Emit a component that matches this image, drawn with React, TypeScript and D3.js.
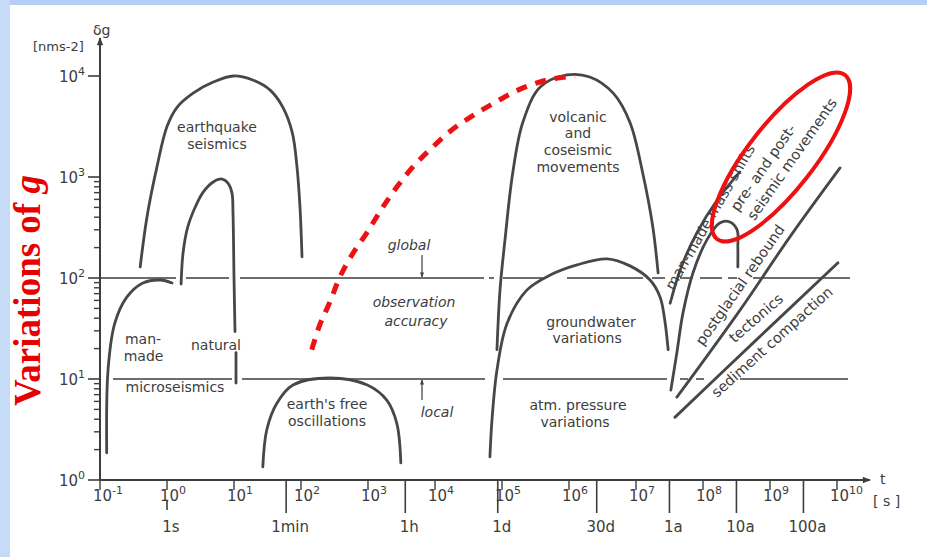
import React, { useEffect, useRef } from 'react';
import * as d3 from 'd3';

const W = 927;
const H = 557;

// axis decades (exponents of ten)
const tExponents = d3.range(-1, 11);
const gExponents = [0, 1, 2, 3, 4];
const minorDecades = [0, 1, 2];
const minorSteps = [2, 3, 4, 5, 6, 7, 8, 9];

// named time marks under the t axis, in seconds
const timeMarks = [
  { label: '1s', seconds: 1 },
  { label: '1min', seconds: 60 },
  { label: '1h', seconds: 3600 },
  { label: '1d', seconds: 86400 },
  { label: '30d', seconds: 2592000 },
  { label: '1a', seconds: 31557600 },
  { label: '10a', seconds: 315576000 },
  { label: '100a', seconds: 3155760000 },
];

// curves as [log10 t, log10 dg]
const earthquakeCurve = [
  [-0.40, 2.11], [-0.30, 2.60], [-0.15, 3.10], [0.0, 3.50], [0.15, 3.69],
  [0.39, 3.83], [0.69, 3.94], [0.99, 4.0], [1.28, 3.96], [1.54, 3.86],
  [1.73, 3.69], [1.87, 3.44], [1.94, 3.10], [1.985, 2.70], [2.015, 2.21],
];
const naturalCurve = [
  [0.21, 1.94], [0.24, 2.25], [0.31, 2.505], [0.42, 2.70], [0.54, 2.85],
  [0.69, 2.95], [0.82, 2.98], [0.91, 2.94], [0.97, 2.84], [0.985, 2.64],
  [1.0, 2.01], [1.015, 1.47],
];
const naturalTail = [[1.03, 1.26], [1.03, 0.96]];
const manMadeCurve = [
  [-0.90, 0.27], [-0.88, 1.09], [-0.78, 1.55], [-0.60, 1.81],
  [-0.36, 1.95], [-0.10, 1.98], [0.075, 1.95],
];
const freeOscCurve = [
  [1.43, 0.13], [1.49, 0.50], [1.64, 0.76], [1.88, 0.94], [2.43, 1.01],
  [2.99, 0.94], [3.28, 0.79], [3.43, 0.56], [3.49, 0.17],
];
const volcanicCurve = [
  [4.925, 1.29], [4.97, 1.88], [5.045, 2.38], [5.16, 3.04], [5.31, 3.54],
  [5.57, 3.89], [5.97, 4.01], [6.31, 3.99], [6.66, 3.83], [6.91, 3.54],
  [7.10, 3.04], [7.25, 2.51], [7.33, 2.05],
];
const groundwaterCurve = [
  [4.82, 0.23], [4.85, 0.59], [4.925, 1.09], [5.075, 1.55], [5.37, 1.88],
  [5.72, 2.03], [6.12, 2.13], [6.57, 2.19], [6.91, 2.12], [7.21, 1.98],
  [7.36, 1.81], [7.43, 1.58], [7.48, 1.29],
];
const massShiftsCurve = [
  [7.51, 1.75], [7.66, 2.08], [7.91, 2.45], [8.21, 2.77], [8.55, 3.05],
];
const prePostCurve = [
  [7.52, 0.89], [7.61, 1.26], [7.70, 1.65], [7.85, 2.05], [8.06, 2.38],
  [8.25, 2.545], [8.40, 2.555], [8.51, 2.475], [8.52, 2.31], [8.52, 2.11],
];
const postglacialLine = [[7.61, 0.82], [8.55, 1.68], [9.30, 2.41], [10.045, 3.09]];
const tectonicsLine = [[7.58, 0.62], [8.80, 1.39], [10.015, 2.15]];

// red annotation trend
const redTrend = [
  [2.16, 1.29], [2.28, 1.535], [2.43, 1.76], [2.58, 2.01], [2.78, 2.25],
  [2.99, 2.455], [3.21, 2.69], [3.43, 2.90], [3.67, 3.10], [3.955, 3.29],
  [4.25, 3.465], [4.57, 3.61], [4.90, 3.74], [5.27, 3.87], [5.67, 3.96], [6.09, 4.0],
];
const redEllipseCenter = [9.164, 3.198];

// accuracy limits, drawn as broken lines [from, to] in log10 t
const globalSegments = [
  [-1, 0.134], [0.284, 0.925], [1.09, 4.731], [4.806, 4.881], [5.015, 5.612],
  [5.97, 7.104], [7.239, 7.433], [7.657, 7.836], [7.955, 8.284], [8.373, 8.507], [8.746, 10.194],
];
const localSegments = [
  [-0.806, 0.97], [1.119, 4.746], [5.015, 7.463], [7.657, 7.776], [7.896, 8.015], [8.552, 10.164],
];

// text labels: [text, log10 t, log10 dg, italic]
const flatLabels: [string, number, number, boolean][] = [
  ['earthquake', 0.746, 3.446, false],
  ['seismics', 0.746, 3.277, false],
  ['man-', -0.358, 1.347, false],
  ['made', -0.35, 1.178, false],
  ['natural', 0.731, 1.287, false],
  ['microseismics', 0.119, 0.871, false],
  ["earth's free", 2.388, 0.703, false],
  ['oscillations', 2.388, 0.535, false],
  ['global', 3.612, 2.277, true],
  ['observation', 3.687, 1.713, true],
  ['accuracy', 3.716, 1.525, true],
  ['local', 4.03, 0.624, true],
  ['volcanic', 6.134, 3.545, false],
  ['and', 6.134, 3.386, false],
  ['coseismic', 6.134, 3.218, false],
  ['movements', 6.134, 3.05, false],
  ['groundwater', 6.328, 1.515, false],
  ['variations', 6.27, 1.356, false],
  ['atm. pressure', 6.134, 0.693, false],
  ['variations', 6.09, 0.525, false],
];
// rotated labels: [text, log10 t, log10 dg, angle]
const slantLabels: [string, number, number, number][] = [
  ['man-made mass shifts', 8.104, 2.604, -60],
  ['pre- and post-', 8.896, 3.094, -55],
  ['seismic movements', 9.328, 3.178, -55],
  ['postglacial rebound', 8.552, 1.931, -55],
  ['tectonics', 8.791, 1.604, -41],
  ['sediment compaction', 9.03, 1.366, -42],
];

const INK = '#3d3d3d';
const FONT = 'DejaVu Sans, sans-serif';

export default function App() {
  const ref = useRef<SVGSVGElement>(null);

  useEffect(() => {
    const svg = d3.select(ref.current);
    svg.selectAll('*').remove();

    const x = d3.scaleLinear().domain([-1, 10]).range([100, 837]);
    const y = d3.scaleLinear().domain([0, 4]).range([480, 76]);
    const line = d3.line<number[]>()
      .x(d => x(d[0]))
      .y(d => y(d[1]))
      .curve(d3.curveCatmullRom.alpha(0.5));

    // frame
    svg.append('rect').attr('width', W).attr('height', H).attr('fill', '#fff');
    svg.append('rect').attr('width', W).attr('height', 5).attr('fill', '#b4cff3');
    svg.append('rect').attr('width', 10).attr('height', H).attr('fill', '#c6dbf5');

    const defs = svg.append('defs');
    defs.append('marker')
      .attr('id', 'arr').attr('viewBox', '0 0 10 10')
      .attr('refX', 9).attr('refY', 5)
      .attr('markerWidth', 10).attr('markerHeight', 8)
      .attr('markerUnits', 'userSpaceOnUse')
      .attr('orient', 'auto')
      .append('path').attr('d', 'M0,1 L10,5 L0,9 Z').attr('fill', INK);
    defs.append('marker')
      .attr('id', 'arrSmall').attr('viewBox', '0 0 10 10')
      .attr('refX', 9).attr('refY', 5)
      .attr('markerWidth', 7).attr('markerHeight', 5)
      .attr('markerUnits', 'userSpaceOnUse')
      .attr('orient', 'auto')
      .append('path').attr('d', 'M0,1 L10,5 L0,9 Z').attr('fill', INK);

    const g = svg.append('g');

    // axes
    g.append('line')
      .attr('x1', x(-1)).attr('x2', x(-1)).attr('y1', y(0)).attr('y2', 38)
      .attr('stroke', INK).attr('stroke-width', 2).attr('marker-end', 'url(#arr)');
    g.append('line')
      .attr('x1', x(-1)).attr('x2', 870).attr('y1', y(0)).attr('y2', y(0))
      .attr('stroke', INK).attr('stroke-width', 1.8).attr('marker-end', 'url(#arr)');

    // y ticks
    gExponents.forEach(e => {
      g.append('line')
        .attr('x1', x(-1) - 12).attr('x2', x(-1)).attr('y1', y(e)).attr('y2', y(e))
        .attr('stroke', INK).attr('stroke-width', 1.6);
      const t = g.append('text')
        .attr('x', x(-1) - 15).attr('y', y(e) + 6)
        .attr('text-anchor', 'end').attr('fill', INK)
        .style('font-family', FONT).style('font-size', '15px');
      t.append('tspan').text('10');
      t.append('tspan').attr('dy', -7).style('font-size', '11px').text(String(e));
    });
    minorDecades.forEach(dec => {
      minorSteps.forEach(m => {
        const v = dec + Math.log10(m);
        g.append('line')
          .attr('x1', x(-1) - 6).attr('x2', x(-1)).attr('y1', y(v)).attr('y2', y(v))
          .attr('stroke', INK).attr('stroke-width', 1.4);
      });
    });

    // x ticks
    tExponents.forEach(e => {
      g.append('line')
        .attr('x1', x(e)).attr('x2', x(e)).attr('y1', y(0)).attr('y2', y(0) + 10)
        .attr('stroke', INK).attr('stroke-width', 1.4);
      const t = g.append('text')
        .attr('x', x(e) - 7).attr('y', y(0) + 21)
        .attr('fill', INK)
        .style('font-family', FONT).style('font-size', '15px');
      t.append('tspan').text('10');
      t.append('tspan').attr('dy', -7).style('font-size', '11px').text(String(e));
    });
    timeMarks.forEach(d => {
      const e = Math.log10(d.seconds);
      const onDecade = Math.abs(e - Math.round(e)) < 1e-9;
      g.append('line')
        .attr('x1', x(e)).attr('x2', x(e))
        .attr('y1', onDecade ? y(0) + 20 : y(0)).attr('y2', onDecade ? y(0) + 30 : y(0) + 33)
        .attr('stroke', INK).attr('stroke-width', 1.6);
      g.append('text')
        .attr('x', x(e) + 4).attr('y', y(0) + 52)
        .attr('text-anchor', 'middle').attr('fill', INK)
        .style('font-family', FONT).style('font-size', '15px')
        .text(d.label);
    });

    // axis titles
    g.append('text').attr('x', 93).attr('y', 35).attr('fill', INK)
      .style('font-family', FONT).style('font-size', '14px').text('δg');
    g.append('text').attr('x', 33).attr('y', 51).attr('fill', INK)
      .style('font-family', FONT).style('font-size', '13px').text('[nms-2]');
    g.append('text').attr('x', 880).attr('y', 484).attr('fill', INK)
      .style('font-family', FONT).style('font-size', '14px').text('t');
    g.append('text').attr('x', 873).attr('y', 506).attr('fill', INK)
      .style('font-family', FONT).style('font-size', '14px').text('[ s ]');

    // accuracy lines
    [[2, globalSegments], [1, localSegments]].forEach(([lev, segs]: any) => {
      segs.forEach((s: number[]) => {
        g.append('line')
          .attr('x1', x(s[0])).attr('x2', x(s[1])).attr('y1', y(lev)).attr('y2', y(lev))
          .attr('stroke', INK).attr('stroke-width', 1.5);
      });
    });
    g.append('line')
      .attr('x1', x(3.806)).attr('x2', x(3.806)).attr('y1', y(2.228)).attr('y2', y(2) - 1)
      .attr('stroke', INK).attr('stroke-width', 1.2).attr('marker-end', 'url(#arrSmall)');
    g.append('line')
      .attr('x1', x(3.806)).attr('x2', x(3.806)).attr('y1', y(0.792)).attr('y2', y(1) + 1)
      .attr('stroke', INK).attr('stroke-width', 1.2).attr('marker-end', 'url(#arrSmall)');

    // curves
    const curves = [
      earthquakeCurve, naturalCurve, naturalTail, manMadeCurve, freeOscCurve,
      volcanicCurve, groundwaterCurve, massShiftsCurve, prePostCurve,
      postglacialLine, tectonicsLine,
    ];
    g.selectAll('.curve')
      .data(curves)
      .enter()
      .append('path')
      .attr('class', 'curve')
      .attr('d', d => line(d))
      .attr('fill', 'none')
      .attr('stroke', '#474747')
      .attr('stroke-width', 2.8)
      .attr('stroke-linecap', 'round');

    // labels
    flatLabels.forEach(([txt, lt, lg, it]) => {
      g.append('text')
        .attr('x', x(lt)).attr('y', y(lg))
        .attr('text-anchor', 'middle').attr('fill', INK)
        .style('font-family', FONT).style('font-size', '14px')
        .style('font-style', it ? 'italic' : 'normal')
        .text(txt);
    });
    slantLabels.forEach(([txt, lt, lg, ang]) => {
      g.append('text')
        .attr('transform', `translate(${x(lt)},${y(lg)}) rotate(${ang})`)
        .attr('dy', '0.35em')
        .attr('text-anchor', 'middle').attr('fill', INK)
        .style('font-family', FONT).style('font-size', '14.5px')
        .text(txt);
    });

    // red annotation
    g.append('path')
      .attr('d', line(redTrend))
      .attr('fill', 'none').attr('stroke', '#ee1111')
      .attr('stroke-width', 5).attr('stroke-dasharray', '11 9');
    g.append('ellipse')
      .attr('transform', `translate(${x(redEllipseCenter[0])},${y(redEllipseCenter[1])}) rotate(-52)`)
      .attr('rx', 104).attr('ry', 33)
      .attr('fill', 'none').attr('stroke', '#ee1111').attr('stroke-width', 4);

    svg.append('text')
      .attr('transform', 'translate(40,406) rotate(-90)')
      .attr('fill', '#e60000')
      .style('font-family', 'Liberation Serif, serif')
      .style('font-size', '37px').style('font-weight', 'bold')
      .call(t => {
        t.append('tspan').text('Variations of ');
        t.append('tspan').style('font-style', 'italic').text('g');
      });
  }, []);

  return (
    <div style={{ position: 'absolute', left: 0, top: 0 }}>
      <svg ref={ref} width={W} height={H} style={{ display: 'block' }} />
    </div>
  );
}
